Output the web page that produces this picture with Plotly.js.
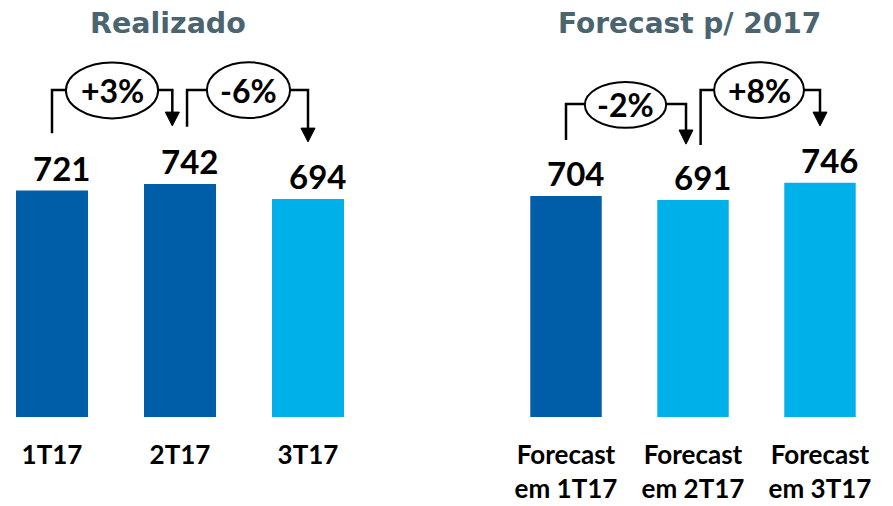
<!DOCTYPE html>
<html><head><meta charset="utf-8">
<script src="https://cdn.plot.ly/plotly-3.0.1.min.js"></script>
<style>html,body{margin:0;padding:0;background:#fff}#c{width:893px;height:506px}</style>
</head><body><div id="c"></div>
<script>
// ---- data ----
const realCategories = ['1T17', '2T17', '3T17'];
const realValues = [721, 742, 694];
const realColors = ['#005DA8', '#005DA8', '#00B1E9'];
const fcCategories = ['Forecast<br>em 1T17', 'Forecast<br>em 2T17', 'Forecast<br>em 3T17'];
const fcValues = [704, 691, 746];
const fcColors = ['#005DA8', '#00B1E9', '#00B1E9'];
const realChanges = ['+3%', '-6%'];
const fcChanges = ['-2%', '+8%'];
const titles = ['Realizado', 'Forecast p/ 2017'];

// ---- traces ----
const traces = [
  {type: 'bar', x: realCategories, y: realValues, marker: {color: realColors}, xaxis: 'x', yaxis: 'y', hoverinfo: 'none'},
  {type: 'bar', x: fcCategories, y: fcValues, marker: {color: fcColors}, xaxis: 'x2', yaxis: 'y', hoverinfo: 'none'}
];

const numFont = {family: 'Lato, sans-serif', size: 33, color: '#000'};
const annotations = [];
realValues.forEach((v, i) => annotations.push({xref: 'x', yref: 'y', x: i, y: v, text: '<b>' + v + '</b>', showarrow: false, xanchor: 'center', yanchor: 'bottom', xshift: 9, yshift: 1, font: numFont}));
fcValues.forEach((v, i) => annotations.push({xref: 'x2', yref: 'y', x: i, y: v, text: '<b>' + v + '</b>', showarrow: false, xanchor: 'center', yanchor: 'bottom', xshift: 9, yshift: 1, font: numFont}));

const titleFont = {family: 'DejaVu Sans, sans-serif', size: 28.5, color: '#4A6470'};
annotations.push({xref: 'paper', yref: 'paper', x: 167.5 / 893, y: 1.0, xanchor: 'center', yanchor: 'middle', yshift: -23, text: '<b>' + titles[0] + '</b>', showarrow: false, font: titleFont});
annotations.push({xref: 'paper', yref: 'paper', x: 689.5 / 893, y: 1.0, xanchor: 'center', yanchor: 'middle', yshift: -23, text: '<b>' + titles[1] + '</b>', showarrow: false, font: {family: 'DejaVu Sans, sans-serif', size: 28, color: '#4A6470'}});

// ---- brackets (decoration, in axis units) ----
const shapes = [];
const LW = 2.5;
function bracket(xr, b, label) {
  const line = {color: '#000', width: LW};
  shapes.push({type: 'path', xref: xr, yref: 'y', line: line,
    path: `M ${b.sx},${b.sy} L ${b.sx},${b.ly} L ${b.ex},${b.ly} L ${b.ex},${b.ht}`});
  shapes.push({type: 'path', xref: xr, yref: 'y', line: {color: '#000', width: 1}, fillcolor: '#000',
    path: `M ${b.ex - b.hw},${b.ht} L ${b.ex + b.hw},${b.ht} L ${b.ex},${b.tip} Z`});
  shapes.push({type: 'circle', xref: xr, yref: 'y', line: {color: '#000', width: 2}, fillcolor: '#fff',
    x0: b.cx - b.rx, x1: b.cx + b.rx, y0: b.cy - b.ry, y1: b.cy + b.ry});
  annotations.push({xref: xr, yref: 'y', x: b.cx, y: b.cy, text: '<b>' + label + '</b>', showarrow: false,
    xanchor: 'center', yanchor: 'middle', font: {family: 'Lato, sans-serif', size: 32, color: '#000'}});
}
bracket('x', {sx: 0, sy: 904, ly: 1041, ex: 0.94, ht: 971, tip: 927, hw: 0.055, cx: 0.469, rx: 0.36, cy: 1040, ry: 89}, realChanges[0]);
bracket('x', {sx: 1.055, sy: 924, ly: 1041, ex: 2.0, ht: 920, tip: 876, hw: 0.055, cx: 1.535, rx: 0.325, cy: 1041, ry: 89}, realChanges[1]);
bracket('x2', {sx: 0, sy: 882, ly: 997, ex: 0.945, ht: 914, tip: 869, hw: 0.055, cx: 0.4685, rx: 0.32, cy: 994, ry: 73}, fcChanges[0]);
bracket('x2', {sx: 1.06, sy: 866, ly: 1041, ex: 2.0, ht: 971, tip: 927, hw: 0.055, cx: 1.52, rx: 0.354, cy: 1041, ry: 89}, fcChanges[1]);

const tickFont = {family: 'Lato, sans-serif', size: 26, color: '#000', weight: 'bold'};
const layout = {
  width: 893, height: 506,
  margin: {l: 0, r: 0, t: 0, b: 89, pad: 0},
  paper_bgcolor: '#fff', plot_bgcolor: '#fff',
  showlegend: false,
  bargap: 0.4375,
  xaxis: {domain: [0, 380 / 893], range: [-52 / 128, (380 - 52) / 128], type: 'category',
    showgrid: false, zeroline: false, showline: false, ticks: 'outside', ticklen: 15, tickcolor: 'rgba(0,0,0,0)',
    tickfont: tickFont, fixedrange: true},
  xaxis2: {domain: [440 / 893, 1], range: [-(566 - 440) / 127, (893 - 566) / 127], type: 'category', anchor: 'y',
    showgrid: false, zeroline: false, showline: false, ticks: 'outside', ticklen: 15, tickcolor: 'rgba(0,0,0,0)',
    tickfont: tickFont, fixedrange: true},
  yaxis: {range: [0, 1328], visible: false, fixedrange: true},
  shapes: shapes,
  annotations: annotations
};
Plotly.newPlot('c', traces, layout, {displayModeBar: false, staticPlot: true});
</script>
</body></html>
